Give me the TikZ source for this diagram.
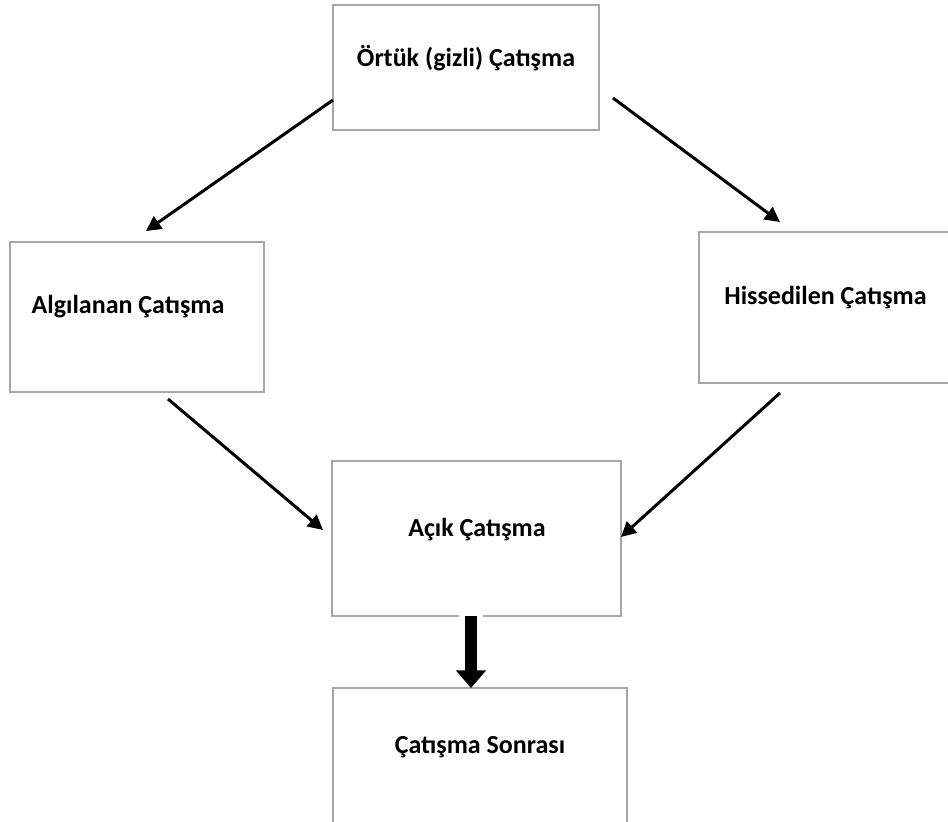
\documentclass[tikz,border=0pt]{standalone}
\usepackage{fontspec}
\setmainfont{Carlito}
\usetikzlibrary{arrows.meta}

\begin{document}
\begin{tikzpicture}[x=0.02cm, y=-0.02cm,
    box/.style={draw=black!35, line width=1.3pt, rectangle, inner sep=0pt},
    lbl/.style={font=\fontsize{14.8}{17}\selectfont\bfseries, inner sep=0pt},
    arr/.style={line width=1.7pt, -{Triangle[length=8.5pt, width=8.5pt]}},
    bigarr/.style={line width=6.8pt, -{Triangle[length=10pt, width=16.5pt]}}]
  \useasboundingbox (0,0) rectangle (948,822);
  \clip (0,0) rectangle (948,822);

  \node[box, minimum width=5.32cm, minimum height=2.5cm] (ortuk) at (466,67.5) {};
  \node[box, minimum width=5.08cm, minimum height=3cm] (algi) at (137,317) {};
  \node[box, minimum width=6cm, minimum height=3.02cm] (hisse) at (849,307.5) {};
  \node[box, minimum width=5.78cm, minimum height=3.1cm] (acik) at (476.5,538.5) {};
  \node[box, minimum width=5.88cm, minimum height=3.2cm] (sonra) at (480,768) {};

  \node[lbl] (ortuktxt) at (466,58) {Örtük (gizli) Çatışma};
  \node[lbl] (algitxt) at (128,307) {Algılanan Çatışma};
  \node[lbl] (hissetxt) at (825.5,298) {Hissedilen Çatışma};
  \node[lbl] (aciktxt) at (477,530) {Açık Çatışma};
  \node[lbl] (sonratxt) at (480,747) {Çatışma Sonrası};

  \coordinate (o1) at (333,100);
  \coordinate (o2) at (613,98);
  \coordinate (a1) at (146,231);
  \coordinate (a2) at (168,399);
  \coordinate (h1) at (780,222);
  \coordinate (h2) at (780,393);
  \coordinate (c1) at (323,530);
  \coordinate (c2) at (621,537);
  \coordinate (c3) at (471,616);
  \coordinate (s1) at (471,688);

  \draw[arr] (o1) -- (a1);
  \draw[arr] (o2) -- (h1);
  \draw[arr] (a2) -- (c1);
  \draw[arr] (h2) -- (c2);

  \fill[white] (459,612) rectangle (483,620);
  \draw[bigarr] (c3) -- (s1);
\end{tikzpicture}
\end{document}
